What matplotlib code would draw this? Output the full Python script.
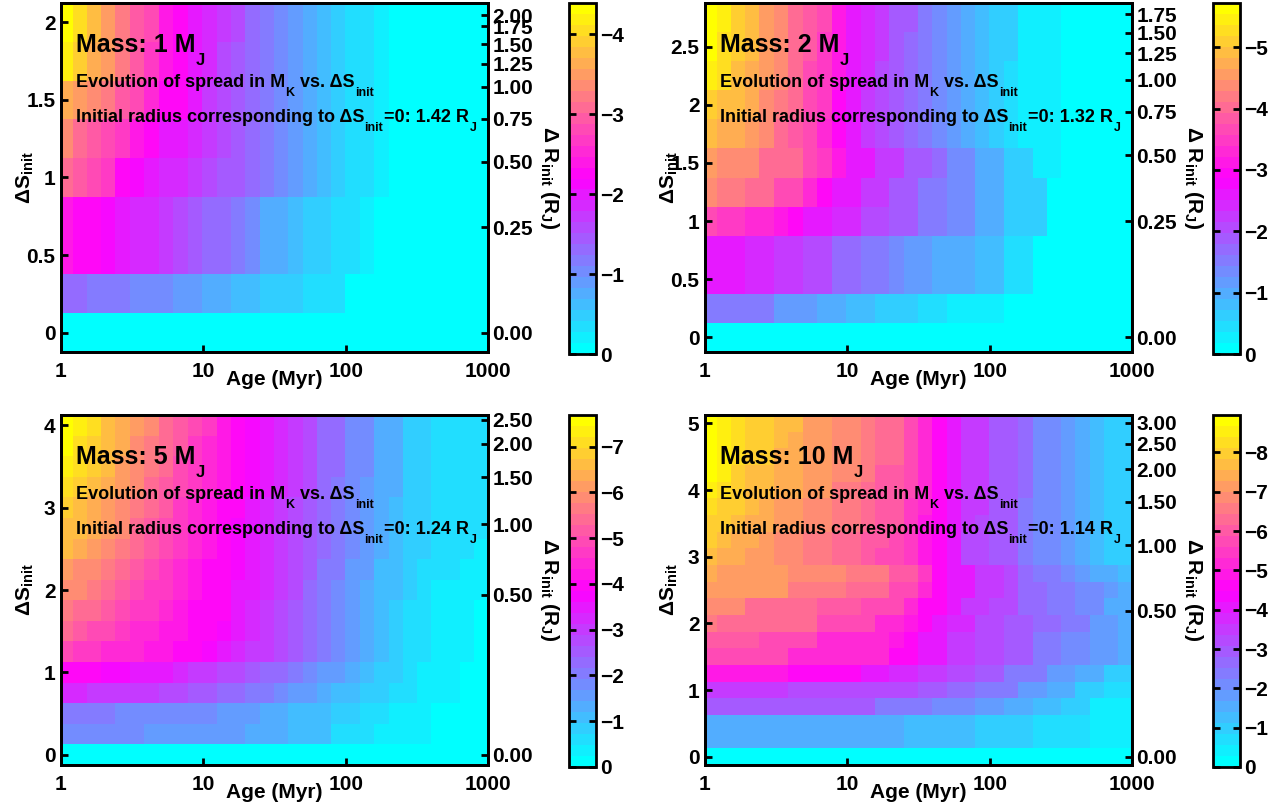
import matplotlib
matplotlib.use("Agg")
import matplotlib.pyplot as plt
import numpy as np
from matplotlib.colors import ListedColormap, Normalize

plt.rcParams['font.family'] = ['Liberation Sans', 'DejaVu Sans']
plt.rcParams['font.weight'] = 'bold'
plt.rcParams['mathtext.fontset'] = 'custom'
plt.rcParams['mathtext.rm'] = 'Liberation Sans:bold'
plt.rcParams['mathtext.bf'] = 'Liberation Sans:bold'
plt.rcParams['mathtext.it'] = 'Liberation Sans:bold'
plt.rcParams['mathtext.default'] = 'bf'

# age grid (cell edges, Myr)
age_edges = [1, 1.21, 1.52, 1.92, 2.41, 3.05, 3.86, 4.87, 6.15, 7.8, 9.73, 12.4, 15.6,
             19.6, 24.9, 31.5, 39.5, 49.8, 62.8, 78.8, 99.5, 126, 159, 200, 252, 318,
             399, 503, 635, 797, 1000]

masses = [1, 2, 5, 10]
r_init = [1.42, 1.32, 1.24, 1.14]

ds_1 = [0, 0.25, 0.5, 0.75, 1.0, 1.25, 1.5, 1.75, 2.0]
ds_2 = [0, 0.25, 0.5, 0.75, 1.0, 1.25, 1.5, 1.75, 2.0, 2.25, 2.5, 2.75]
ds_5 = [0, 0.25, 0.5, 0.75, 1.0, 1.25, 1.5, 1.75, 2.0, 2.25, 2.5, 2.75, 3.0, 3.25,
        3.5, 3.75, 4.0]
ds_10 = [0, 0.25, 0.5, 0.75, 1.0, 1.25, 1.5, 1.75, 2.0, 2.25, 2.5, 2.75, 3.0, 3.25,
         3.5, 3.75, 4.0, 4.25, 4.5, 4.75, 5.0]

# spread in M_K (magnitude of the negative values), rows = dS_init, cols = age cells
spread_1 = [
    [0]*30,
    [1.3, 1.3, 1.15, 1.15, 1.15, 1.0, 1.0, 1.0, 0.85, 0.85, 0.7, 0.7, 0.55, 0.55, 0.45, 0.45, 0.45, 0.3, 0.3, 0.3, 0, 0, 0, 0, 0, 0, 0, 0, 0, 0],
    [2.4, 2.2, 2.2, 2.1, 2.0, 1.9, 1.85, 1.75, 1.6, 1.5, 1.35, 1.3, 1.1, 1.0, 0.75, 0.7, 0.55, 0.5, 0.45, 0.35, 0.3, 0.2, 0, 0, 0, 0, 0, 0, 0, 0],
    [2.4, 2.2, 2.2, 2.1, 2.0, 1.9, 1.85, 1.75, 1.6, 1.5, 1.35, 1.3, 1.1, 1.0, 0.75, 0.7, 0.55, 0.5, 0.45, 0.35, 0.3, 0.2, 0, 0, 0, 0, 0, 0, 0, 0],
    [3.15, 2.95, 2.85, 2.65, 2.2, 2.15, 2.0, 1.9, 1.85, 1.75, 1.6, 1.5, 1.4, 1.25, 1.1, 1.0, 0.85, 0.75, 0.6, 0.5, 0.35, 0.35, 0.2, 0, 0, 0, 0, 0, 0, 0],
    [3.3, 3.15, 3.0, 2.85, 2.65, 2.4, 2.2, 2.05, 2.0, 1.85, 1.7, 1.55, 1.45, 1.3, 1.1, 1.0, 0.85, 0.75, 0.6, 0.5, 0.35, 0.35, 0.2, 0, 0, 0, 0, 0, 0, 0],
    [3.7, 3.55, 3.4, 3.2, 2.95, 2.75, 2.5, 2.3, 2.2, 2.0, 1.75, 1.55, 1.45, 1.3, 1.1, 1.0, 0.85, 0.75, 0.6, 0.5, 0.35, 0.35, 0.2, 0, 0, 0, 0, 0, 0, 0],
    [4.25, 3.9, 3.7, 3.45, 3.2, 2.95, 2.7, 2.45, 2.2, 2.0, 1.85, 1.6, 1.45, 1.3, 1.1, 1.0, 0.85, 0.75, 0.6, 0.5, 0.35, 0.35, 0.2, 0, 0, 0, 0, 0, 0, 0],
    [4.39, 4.0, 3.75, 3.5, 3.25, 2.95, 2.75, 2.45, 2.2, 2.0, 1.85, 1.7, 1.55, 1.35, 1.1, 1.0, 0.85, 0.75, 0.6, 0.5, 0.35, 0.35, 0.2, 0, 0, 0, 0, 0, 0, 0],
]

spread_2 = [
    [0]*30,
    [1.55, 1.55, 1.55, 1.55, 1.55, 1.2, 1.2, 1.2, 1.0, 1.0, 0.8, 0.8, 0.65, 0.65, 0.65, 0.45, 0.45, 0.3, 0.3, 0.3, 0.3, 0, 0, 0, 0, 0, 0, 0, 0, 0],
    [2.6, 2.55, 2.55, 2.4, 2.4, 2.2, 2.2, 2.0, 2.0, 1.75, 1.75, 1.55, 1.55, 1.4, 1.2, 1.2, 1.0, 1.0, 1.0, 0.75, 0.75, 0.45, 0.45, 0, 0, 0, 0, 0, 0, 0],
    [2.6, 2.55, 2.55, 2.4, 2.4, 2.2, 2.2, 2.0, 2.0, 1.75, 1.75, 1.55, 1.55, 1.4, 1.2, 1.2, 1.0, 1.0, 1.0, 0.75, 0.75, 0.45, 0.45, 0, 0, 0, 0, 0, 0, 0],
    [3.65, 3.45, 3.45, 3.35, 3.35, 3.15, 2.9, 2.65, 2.65, 2.4, 2.4, 2.1, 2.1, 1.85, 1.85, 1.6, 1.6, 1.35, 1.35, 1.0, 1.0, 0.6, 0.6, 0.6, 0, 0, 0, 0, 0, 0],
    [4.3, 4.15, 4.15, 3.95, 3.95, 3.6, 3.6, 3.25, 2.9, 2.6, 2.6, 2.3, 2.3, 1.95, 1.95, 1.6, 1.6, 1.35, 1.35, 1.0, 1.0, 0.6, 0.6, 0.6, 0, 0, 0, 0, 0, 0],
    [4.55, 4.45, 4.35, 4.3, 4.1, 3.95, 3.95, 3.6, 3.5, 3.1, 2.6, 2.55, 2.25, 2.2, 1.9, 1.85, 1.65, 1.4, 1.35, 1.0, 1.0, 0.65, 0.6, 0.35, 0.3, 0, 0, 0, 0, 0],
    [4.95, 4.8, 4.65, 4.5, 4.3, 4.1, 3.85, 3.6, 3.35, 2.95, 2.55, 2.3, 2.05, 1.85, 1.65, 1.45, 1.3, 1.1, 0.9, 0.75, 0.6, 0.5, 0.35, 0.3, 0.2, 0, 0, 0, 0, 0],
    [5.15, 5.0, 4.85, 4.65, 4.4, 4.2, 3.95, 3.7, 3.45, 3.0, 2.55, 2.3, 2.1, 1.9, 1.7, 1.5, 1.3, 1.1, 0.95, 0.75, 0.6, 0.5, 0.35, 0.3, 0.2, 0, 0, 0, 0, 0],
    [5.4, 5.2, 5.0, 4.8, 4.5, 4.3, 4.0, 3.75, 3.5, 3.05, 2.6, 2.35, 2.1, 1.9, 1.7, 1.5, 1.35, 1.15, 0.95, 0.8, 0.65, 0.5, 0.35, 0.3, 0.2, 0, 0, 0, 0, 0],
    [5.6, 5.35, 5.1, 4.9, 4.55, 4.35, 4.05, 3.8, 3.55, 3.1, 2.6, 2.35, 2.15, 1.95, 1.7, 1.5, 1.35, 1.15, 1.0, 0.8, 0.65, 0.55, 0.35, 0.3, 0.2, 0, 0, 0, 0, 0],
    [5.72, 5.4, 5.15, 4.95, 4.6, 4.4, 4.1, 3.85, 3.6, 3.15, 2.6, 2.35, 2.15, 1.95, 1.8, 1.55, 1.4, 1.2, 1.0, 0.8, 0.65, 0.55, 0.35, 0.3, 0.2, 0, 0, 0, 0, 0],
]

spread_5 = [
    [0]*30,
    [1.75, 1.75, 1.75, 1.75, 1.75, 1.75, 1.6, 1.6, 1.6, 1.6, 1.6, 1.6, 1.6, 1.3, 1.3, 1.3, 1.0, 1.0, 1.0, 0.7, 0.7, 0.7, 0.4, 0.4, 0.4, 0.4, 0.15, 0.15, 0.15, 0.15],
    [2.1, 2.1, 2.1, 2.05, 1.85, 1.85, 1.8, 1.8, 1.75, 1.7, 1.7, 1.55, 1.5, 1.45, 1.3, 1.25, 1.2, 1.0, 1.0, 0.8, 0.75, 0.7, 0.5, 0.45, 0.4, 0.4, 0.1, 0.1, 0.1, 0.1],
    [3.2, 3.2, 3.1, 3.05, 3.0, 2.95, 2.9, 2.8, 2.7, 2.6, 2.5, 2.35, 2.25, 2.1, 1.95, 1.85, 1.65, 1.5, 1.35, 1.2, 1.05, 0.95, 0.8, 0.65, 0.5, 0.4, 0.3, 0.25, 0.15, 0.1],
    [3.9, 3.85, 3.85, 3.8, 3.75, 3.6, 3.5, 3.4, 3.25, 3.1, 2.95, 2.8, 2.65, 2.5, 2.35, 2.2, 2.0, 1.8, 1.6, 1.45, 1.25, 1.1, 0.9, 0.75, 0.55, 0.45, 0.3, 0.25, 0.2, 0.1],
    [4.9, 4.8, 4.65, 4.55, 4.45, 4.35, 4.2, 4.1, 4.0, 3.85, 3.65, 3.5, 3.3, 3.1, 2.9, 2.7, 2.45, 2.2, 1.95, 1.75, 1.45, 1.25, 1.0, 0.85, 0.6, 0.5, 0.35, 0.3, 0.25, 0.1],
    [5.3, 5.15, 5.0, 4.85, 4.7, 4.55, 4.4, 4.25, 4.1, 3.95, 3.85, 3.7, 3.45, 3.25, 3.0, 2.8, 2.55, 2.3, 2.05, 1.8, 1.5, 1.3, 1.05, 0.9, 0.65, 0.55, 0.35, 0.35, 0.3, 0.1],
    [5.7, 5.5, 5.35, 5.2, 5.0, 4.8, 4.6, 4.4, 4.2, 4.05, 3.9, 3.85, 3.5, 3.3, 3.05, 2.85, 2.6, 2.35, 2.1, 1.85, 1.55, 1.35, 1.1, 0.95, 0.7, 0.6, 0.4, 0.4, 0.35, 0.1],
    [6.0, 5.8, 5.6, 5.4, 5.2, 5.0, 4.8, 4.6, 4.4, 4.2, 4.0, 3.85, 3.6, 3.4, 3.15, 2.9, 2.65, 2.4, 2.1, 1.9, 1.6, 1.4, 1.15, 1.0, 0.75, 0.65, 0.45, 0.45, 0.4, 0.35],
    [6.2, 6.0, 5.8, 5.6, 5.4, 5.15, 4.9, 4.65, 4.45, 4.25, 4.05, 3.9, 3.8, 3.45, 3.2, 2.95, 2.7, 2.45, 2.15, 1.95, 1.65, 1.45, 1.2, 1.05, 0.8, 0.7, 0.5, 0.5, 0.45, 0.4],
    [6.5, 6.3, 6.1, 5.85, 5.6, 5.35, 5.1, 4.85, 4.6, 4.35, 4.1, 3.9, 3.8, 3.5, 3.25, 3.0, 2.75, 2.5, 2.2, 2.0, 1.7, 1.5, 1.25, 1.1, 0.85, 0.75, 0.55, 0.5, 0.5, 0.45],
    [6.7, 6.5, 6.3, 6.05, 5.8, 5.5, 5.25, 5.0, 4.7, 4.4, 4.15, 3.95, 3.8, 3.55, 3.3, 3.05, 2.8, 2.55, 2.25, 2.05, 1.7, 1.55, 1.3, 1.15, 0.9, 0.8, 0.55, 0.55, 0.5, 0.5],
    [6.9, 6.7, 6.45, 6.2, 5.95, 5.65, 5.4, 5.1, 4.8, 4.5, 4.25, 4.0, 3.85, 3.6, 3.35, 3.1, 2.85, 2.6, 2.3, 2.1, 1.75, 1.6, 1.35, 1.2, 0.9, 0.85, 0.6, 0.55, 0.55, 0.5],
    [7.1, 6.85, 6.6, 6.35, 6.1, 5.8, 5.5, 5.2, 4.9, 4.6, 4.35, 4.1, 3.9, 3.7, 3.4, 3.15, 2.9, 2.65, 2.35, 2.15, 1.8, 1.65, 1.4, 1.25, 0.95, 0.85, 0.6, 0.6, 0.55, 0.55],
    [7.3, 7.0, 6.8, 6.5, 6.2, 5.9, 5.6, 5.3, 5.0, 4.7, 4.45, 4.2, 3.95, 3.75, 3.45, 3.2, 2.95, 2.7, 2.4, 2.2, 1.8, 1.7, 1.4, 1.3, 0.95, 0.9, 0.6, 0.6, 0.6, 0.6],
    [7.5, 7.2, 6.9, 6.6, 6.3, 6.0, 5.7, 5.4, 5.1, 4.8, 4.5, 4.25, 4.0, 3.8, 3.5, 3.25, 3.0, 2.75, 2.4, 2.2, 1.8, 1.7, 1.4, 1.3, 0.95, 0.9, 0.6, 0.6, 0.6, 0.6],
    [7.69, 7.3, 7.0, 6.7, 6.4, 6.1, 5.8, 5.5, 5.2, 4.9, 4.6, 4.3, 4.0, 3.8, 3.5, 3.25, 3.0, 2.75, 2.4, 2.2, 1.8, 1.7, 1.4, 1.3, 0.95, 0.9, 0.6, 0.6, 0.6, 0.6],
]

spread_10 = [
    [0]*30,
    [1.6, 1.6, 1.6, 1.6, 1.6, 1.6, 1.6, 1.6, 1.6, 1.6, 1.6, 1.6, 1.6, 1.6, 1.25, 1.25, 1.25, 1.25, 1.25, 0.95, 0.95, 0.95, 0.95, 0.7, 0.7, 0.7, 0.7, 0.45, 0.45, 0.45],
    [1.6, 1.6, 1.6, 1.6, 1.6, 1.6, 1.6, 1.6, 1.6, 1.6, 1.6, 1.6, 1.6, 1.6, 1.25, 1.25, 1.25, 1.25, 1.25, 0.95, 0.95, 0.95, 0.95, 0.7, 0.7, 0.7, 0.7, 0.45, 0.45, 0.45],
    [2.8, 2.8, 2.8, 2.8, 2.8, 2.8, 2.8, 2.8, 2.8, 2.8, 2.8, 2.8, 2.5, 2.5, 2.5, 2.5, 2.15, 2.15, 2.15, 1.85, 1.85, 1.6, 1.6, 1.2, 1.2, 1.0, 1.0, 0.55, 0.55, 0.55],
    [3.5, 3.45, 3.45, 3.4, 3.4, 3.4, 3.35, 3.35, 3.3, 3.3, 3.3, 3.1, 3.1, 3.1, 3.1, 2.8, 2.8, 2.6, 2.6, 2.25, 2.25, 2.25, 1.9, 1.9, 1.6, 1.6, 1.1, 1.1, 0.75, 0.75],
    [5.0, 5.0, 5.0, 5.0, 5.0, 5.0, 4.6, 4.6, 4.6, 4.6, 4.6, 4.05, 4.05, 3.65, 3.65, 3.4, 3.4, 3.1, 3.1, 2.8, 2.8, 2.5, 2.5, 2.25, 1.9, 1.9, 1.5, 1.5, 1.1, 1.1],
    [5.6, 5.6, 5.6, 5.6, 5.6, 5.6, 5.2, 5.2, 5.2, 5.2, 5.2, 5.2, 5.2, 4.6, 4.6, 4.0, 4.0, 3.5, 3.5, 3.2, 3.2, 2.8, 2.8, 2.5, 2.5, 2.1, 2.1, 1.7, 1.7, 1.45],
    [6.05, 6.05, 6.05, 6.05, 5.7, 5.7, 5.7, 5.7, 5.3, 5.3, 5.3, 5.3, 5.3, 4.9, 4.55, 4.0, 4.0, 3.55, 3.55, 3.1, 3.1, 2.8, 2.8, 2.5, 2.5, 2.15, 2.15, 1.75, 1.75, 1.45],
    [6.5, 6.2, 6.2, 6.2, 6.2, 6.2, 6.2, 6.2, 5.7, 5.7, 5.7, 5.7, 5.3, 5.3, 4.9, 4.55, 4.1, 3.7, 3.7, 3.25, 3.25, 2.85, 2.85, 2.55, 2.55, 2.25, 2.25, 1.9, 1.9, 1.5],
    [6.85, 6.85, 6.85, 6.4, 6.4, 6.4, 6.4, 6.4, 6.0, 6.0, 6.0, 5.6, 5.6, 5.6, 5.1, 4.6, 4.6, 4.1, 3.6, 3.6, 3.2, 3.2, 2.7, 2.7, 2.45, 2.45, 2.0, 2.0, 1.65, 1.65],
    [7.25, 7.0, 7.0, 7.0, 7.0, 7.0, 6.6, 6.6, 6.6, 6.6, 6.2, 6.2, 6.2, 5.7, 5.7, 5.2, 4.6, 4.1, 4.1, 3.6, 3.6, 3.15, 2.75, 2.6, 2.5, 2.3, 2.2, 2.0, 1.8, 1.6],
    [7.55, 7.25, 7.25, 7.25, 7.25, 7.25, 6.85, 6.85, 6.85, 6.85, 6.45, 6.45, 6.45, 5.95, 5.95, 5.4, 4.75, 4.1, 4.1, 3.6, 3.6, 3.15, 2.6, 2.3, 2.25, 2.0, 1.8, 1.6, 1.4, 1.2],
    [7.7, 7.55, 7.3, 7.1, 7.05, 6.8, 6.75, 6.5, 6.5, 6.3, 6.25, 6.05, 5.8, 5.75, 5.35, 4.95, 4.6, 4.1, 3.35, 3.3, 2.85, 2.8, 2.45, 2.05, 2.0, 1.75, 1.5, 1.25, 1.05, 1.0],
    [7.9, 7.75, 7.5, 7.3, 7.25, 6.95, 6.9, 6.65, 6.65, 6.4, 6.4, 6.15, 5.9, 5.85, 5.45, 5.0, 4.6, 4.1, 3.35, 3.3, 2.85, 2.85, 2.5, 2.05, 2.0, 1.75, 1.5, 1.25, 1.0, 0.95],
    [8.1, 7.95, 7.7, 7.45, 7.4, 7.1, 7.05, 6.8, 6.8, 6.5, 6.5, 6.25, 6.0, 5.95, 5.5, 5.0, 4.6, 4.1, 3.4, 3.35, 2.9, 2.85, 2.5, 2.05, 2.0, 1.75, 1.5, 1.25, 1.0, 0.95],
    [8.3, 8.1, 7.85, 7.6, 7.55, 7.25, 7.2, 6.9, 6.9, 6.6, 6.6, 6.35, 6.05, 6.0, 5.55, 5.05, 4.6, 4.1, 3.4, 3.4, 2.9, 2.9, 2.5, 2.1, 2.0, 1.75, 1.5, 1.25, 0.95, 0.9],
    [8.55, 8.3, 8.0, 7.7, 7.7, 7.35, 7.3, 7.0, 7.0, 6.7, 6.7, 6.4, 6.1, 6.05, 5.6, 5.1, 4.6, 4.1, 3.45, 3.4, 2.95, 2.9, 2.55, 2.1, 2.05, 1.75, 1.5, 1.2, 0.95, 0.9],
    [8.7, 8.4, 8.1, 7.8, 7.8, 7.45, 7.4, 7.1, 7.1, 6.8, 6.75, 6.5, 6.15, 6.1, 5.65, 5.15, 4.6, 4.1, 3.45, 3.45, 2.95, 2.95, 2.55, 2.1, 2.05, 1.75, 1.5, 1.2, 0.9, 0.9],
    [8.8, 8.5, 8.2, 7.9, 7.9, 7.5, 7.5, 7.15, 7.15, 6.85, 6.85, 6.55, 6.2, 6.2, 5.7, 5.2, 4.6, 4.1, 3.5, 3.45, 3.0, 2.95, 2.6, 2.1, 2.1, 1.75, 1.5, 1.2, 0.9, 0.9],
    [8.9, 8.55, 8.3, 7.95, 7.95, 7.6, 7.55, 7.2, 7.2, 6.9, 6.9, 6.6, 6.25, 6.25, 5.75, 5.25, 4.6, 4.1, 3.5, 3.5, 3.0, 3.0, 2.6, 2.1, 2.1, 1.75, 1.5, 1.2, 0.9, 0.9],
    [8.95, 8.6, 8.3, 8.0, 8.0, 7.6, 7.6, 7.25, 7.25, 6.95, 6.95, 6.65, 6.3, 6.3, 5.8, 5.3, 4.6, 4.1, 3.5, 3.5, 3.0, 3.0, 2.6, 2.1, 2.1, 1.75, 1.5, 1.2, 0.9, 0.9],
]

# right-axis dR_init ticks and where they sit on the dS_init scale
dr_ticks = [
    [0.00, 0.25, 0.50, 0.75, 1.00, 1.25, 1.50, 1.75, 2.00],
    [0.00, 0.25, 0.50, 0.75, 1.00, 1.25, 1.50, 1.75],
    [0.00, 0.50, 1.00, 1.50, 2.00, 2.50],
    [0.00, 0.50, 1.00, 1.50, 2.00, 2.50, 3.00],
]
dr_at_ds = [
    [0, 0.68, 1.10, 1.38, 1.585, 1.734, 1.86, 1.975, 2.047],
    [0, 1.0, 1.565, 1.94, 2.215, 2.445, 2.62, 2.78],
    [0, 1.94, 2.80, 3.37, 3.775, 4.065],
    [0, 2.185, 3.17, 3.825, 4.315, 4.695, 5.01],
]

ds_all = [ds_1, ds_2, ds_5, ds_10]
spread_all = [spread_1, spread_2, spread_5, spread_10]

# cyan -> magenta -> yellow, 32 steps (most negative = yellow)
f = np.linspace(0, 1, 32)
cr = np.clip(2 * f, 0, 1)
cg = np.where(f < 0.5, 1 - 2 * f, 2 * f - 1)
cb_ = np.clip(np.where(f < 0.5, 1.0, 2 - 2 * f), 0, 1)
cmap = ListedColormap(np.column_stack([cr, cg, cb_])[::-1])

W, H = 1278, 809
fig = plt.figure(figsize=(W / 100, H / 100), dpi=100)

ax_rects = [(61, 3, 427, 349), (705, 3, 427, 349), (61, 415, 427, 350), (705, 415, 427, 350)]
cb_rects = [(569, 3, 27, 351), (1213, 3, 27, 351), (569, 415, 27, 352), (1213, 415, 27, 352)]


def frac(r):
    x, y, w, h = r
    return [x / W, (H - y - h) / H, w / W, h / H]


def tex_line(ax, x, y, parts, size, sub_size, drop):
    # text with MATLAB-like subscripts: parts = [(string, is_subscript), ...]
    prev = ax.text(x, y, parts[0][0], transform=ax.transAxes, fontsize=size,
                   fontweight='bold', va='baseline')
    for s, sub in parts[1:]:
        prev = ax.annotate(s, xy=(1, y), xycoords=(prev, ax.transAxes),
                           xytext=(0.4, -drop if sub else 0), textcoords='offset points',
                           fontsize=sub_size if sub else size, fontweight='bold',
                           va='baseline', ha='left')


for i in range(4):
    ds = np.array(ds_all[i])
    d = ds[1] - ds[0]
    ds_edges = np.concatenate(([ds[0] - d / 2], (ds[:-1] + ds[1:]) / 2, [ds[-1] + d / 2]))
    C = -np.array(spread_all[i], dtype=float)

    ax = fig.add_axes(frac(ax_rects[i]))
    norm = Normalize(vmin=C.min(), vmax=0)
    mesh = ax.pcolormesh(age_edges, ds_edges, C, cmap=cmap, norm=norm, shading='flat')
    ax.set_xscale('log')
    ax.set_xlim(1, 1000)
    ax.set_ylim(ds_edges[0], ds_edges[-1])
    ax.set_xticks([1, 10, 100, 1000])
    ax.set_xticklabels(['1', '10', '100', '1000'])
    ax.xaxis.set_minor_locator(plt.NullLocator())
    ystep = 0.5 if ds[-1] < 3 else 1.0
    yt = np.arange(0, ds[-1] + 0.01, ystep)
    ax.set_yticks(yt)
    ax.set_yticklabels(['%g' % v for v in yt])
    ax.tick_params(axis='both', direction='in', length=5, width=2, labelsize=15)
    ax.tick_params(axis='x', top=False, bottom=True, pad=7)
    ax.tick_params(axis='y', left=True, right=False, pad=4)
    for sp in ax.spines.values():
        sp.set_linewidth(2)
    ax.set_xlabel('Age (Myr)', fontsize=15, fontweight='bold', labelpad=-8)
    ax.set_ylabel('ΔS$_{init}$', fontsize=15, fontweight='bold')
    ax.yaxis.set_label_coords(-0.058, 0.5)

    # overlaid axis (linear 0..1) gives the unlabelled ticks along the top
    top = ax.secondary_xaxis('top', functions=(lambda a: np.log10(a) / 3,
                                               lambda t: 10 ** (3 * t)))
    top.set_xticks([0, 0.2, 0.4, 0.6, 0.8, 1.0])
    top.set_xticklabels([])
    top.xaxis.set_minor_locator(plt.NullLocator())
    top.tick_params(direction='in', length=5, width=2)
    top.spines['top'].set_linewidth(2)

    ax2 = ax.twinx()
    ax2.set_ylim(ax.get_ylim())
    ax2.set_yticks(dr_at_ds[i])
    ax2.set_yticklabels(['%.2f' % v for v in dr_ticks[i]])
    ax2.tick_params(axis='y', direction='in', length=5, width=2, labelsize=15, pad=3)
    for sp in ax2.spines.values():
        sp.set_linewidth(2)
    ax2.set_ylabel('Δ R$_{init}$ (R$_J$)', fontsize=15, fontweight='bold',
                   rotation=270, va='bottom', labelpad=4)

    tex_line(ax, 0.034, 0.86, [('Mass: %d M' % masses[i], False), ('J', True)],
             18, 12, 9.5)
    tex_line(ax, 0.034, 0.759, [('Evolution of spread in M', False), ('K', True),
                                (' vs. ΔS', False), ('init', True)], 13, 9, 6.5)
    tex_line(ax, 0.034, 0.659, [('Initial radius corresponding to ΔS', False), ('init', True),
                                ('=0: %.2f R' % r_init[i], False), ('J', True)], 13, 9, 6.5)

    cax = fig.add_axes(frac(cb_rects[i]))
    cbar = fig.colorbar(mesh, cax=cax)
    cbar.ax.invert_yaxis()
    cbar.set_ticks(np.arange(0, C.min() - 0.001, -1))
    cbar.ax.tick_params(direction='in', left=True, right=True, length=5, width=2,
                        labelsize=15, pad=3)
    cbar.outline.set_linewidth(2)

fig.savefig('out.png', dpi=100)
